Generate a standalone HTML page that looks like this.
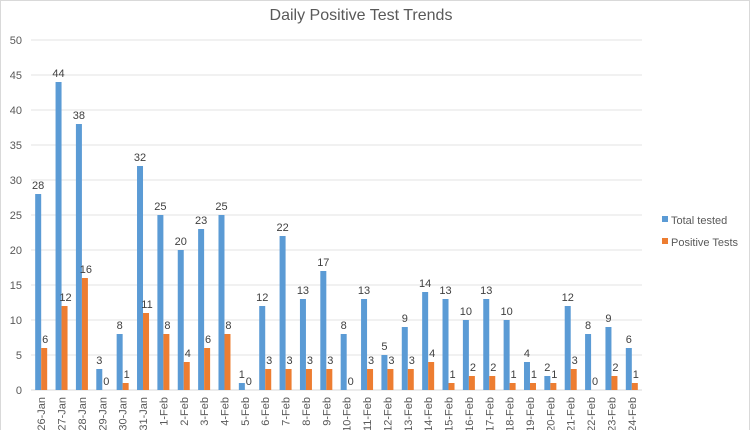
<!DOCTYPE html>
<html><head><meta charset="utf-8"><style>
html,body{margin:0;padding:0;background:#fff;}
svg{display:block;font-family:"Liberation Sans",sans-serif;}
</style></head><body>
<svg id="chart" width="750" height="430">
<rect x="0.5" y="0.5" width="749" height="440" fill="#fff" stroke="#d9d9d9"/>
<text x="361" y="20" text-anchor="middle" font-size="16" fill="#595959">Daily Positive Test Trends</text>
<g id="grid"></g><g id="bars"></g><g id="labels"></g>
<g>
<rect x="662" y="216" width="6" height="6" fill="#5b9bd5"/>
<text x="671" y="224" font-size="11" fill="#595959">Total tested</text>
<rect x="662" y="238" width="6" height="6" fill="#ed7d31"/>
<text x="671" y="246" font-size="11" fill="#595959">Positive Tests</text>
</g>
</svg>
<script>
const categories=["26-Jan","27-Jan","28-Jan","29-Jan","30-Jan","31-Jan","1-Feb","2-Feb","3-Feb","4-Feb","5-Feb","6-Feb","7-Feb","8-Feb","9-Feb","10-Feb","11-Feb","12-Feb","13-Feb","14-Feb","15-Feb","16-Feb","17-Feb","18-Feb","19-Feb","20-Feb","21-Feb","22-Feb","23-Feb","24-Feb"];
const totalTested=[28,44,38,3,8,32,25,20,23,25,1,12,22,13,17,8,13,5,9,14,13,10,13,10,4,2,12,8,9,6];
const positiveTests=[6,12,16,0,1,11,8,4,6,8,0,3,3,3,3,0,3,3,3,4,1,2,2,1,1,1,3,0,2,1];
const yTicks=[0,5,10,15,20,25,30,35,40,45,50];
const NS="http://www.w3.org/2000/svg";
const x0=31,x1=642,y0=390,y1=40,yMax=50;
const bw=(x1-x0)/categories.length;
const y=v=>y0-(v/yMax)*(y0-y1);
const xc=i=>x0+bw*(i+0.5);
function mk(tag,attrs,parent,txt){const e=document.createElementNS(NS,tag);for(const k in attrs)e.setAttribute(k,attrs[k]);if(txt!==undefined)e.textContent=txt;document.getElementById(parent).appendChild(e);return e;}
yTicks.forEach(t=>{
 const l=mk('line',{x1:x0,x2:x1,y1:y(t),y2:y(t),stroke:t===0?'#d9d9d9':'#e3e3e3','stroke-width':1},'grid');
 
 
 const tx=mk('text',{x:22,y:y(t)+4,'text-anchor':'end','font-size':11,fill:'#595959'},'grid',String(t));
 
 
});
categories.forEach((c,i)=>{
 const cx=xc(i);
 const b=mk('rect',{x:cx-6,y:y(totalTested[i]),width:6,height:y0-y(totalTested[i]),fill:'#5b9bd5'},'bars');
 
 
 const o=mk('rect',{x:cx,y:y(positiveTests[i]),width:6,height:y0-y(positiveTests[i]),fill:'#ed7d31'},'bars');
 
 
 const lt=mk('text',{x:cx-3,y:y(totalTested[i])-5,'text-anchor':'middle','font-size':11,fill:'#404040'},'labels',String(totalTested[i]));
 
 
 const lp=mk('text',{x:cx+4,y:y(positiveTests[i])-5,'text-anchor':'middle','font-size':11,fill:'#404040'},'labels',String(positiveTests[i]));
 
 
 const xl=mk('text',{x:0,y:0,'text-anchor':'end','font-size':11,fill:'#595959',transform:`translate(${cx+4},397) rotate(-90)`},'labels',c);
 
 
});
</script>
</body></html>
